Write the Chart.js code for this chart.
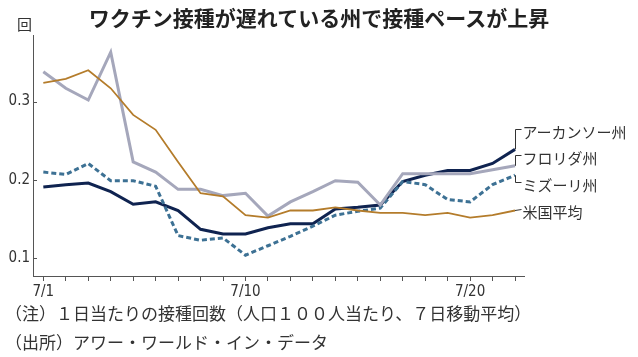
<!DOCTYPE html>
<html><head><meta charset="utf-8">
<script src="https://cdn.jsdelivr.net/npm/chart.js@4.4.0/dist/chart.umd.min.js"></script>
<style>
html,body{margin:0;padding:0;background:#fff;}
#wrap{position:relative;width:638px;height:357px;overflow:hidden;font-family:"Noto Sans CJK JP","Noto Sans",sans-serif;}
canvas{position:absolute;left:0;top:0;}
.t{position:absolute;white-space:nowrap;color:#222;}
</style></head>
<body>
<div id="wrap">
<canvas id="c" width="638" height="357"></canvas>
<div class="t" id="title" style="left:0;width:638px;text-align:center;top:4px;font-size:21px;font-weight:bold;line-height:26px;">ワクチン接種が遅れている州で接種ペースが上昇</div>
<div class="t" style="left:17px;top:15px;font-size:15px;line-height:17px;color:#333;">回</div>
<div class="t" style="left:5px;top:302px;font-size:17px;line-height:22px;color:#333;">（注）１日当たりの接種回数（人口１００人当たり、７日移動平均）</div>
<div class="t" style="left:5px;top:331px;font-size:17px;line-height:22px;color:#333;">（出所）アワー・ワールド・イン・データ</div>
</div>
<script>
const categories = ["7/1","7/2","7/3","7/4","7/5","7/6","7/7","7/8","7/9","7/10","7/11","7/12","7/13","7/14","7/15","7/16","7/17","7/18","7/19","7/20","7/21","7/22"];
const shownTickLabels = ["7/1","7/10","7/20"];
const yTicks = [0.1, 0.2, 0.3];
const arkansas = [0.191,0.194,0.196,0.185,0.169,0.172,0.161,0.137,0.131,0.131,0.139,0.144,0.144,0.163,0.165,0.168,0.198,0.206,0.212,0.212,0.221,0.239];
const florida  = [0.338,0.317,0.302,0.363,0.223,0.210,0.188,0.188,0.180,0.183,0.154,0.172,0.185,0.199,0.197,0.168,0.208,0.208,0.208,0.208,0.213,0.218];
const missouri = [0.210,0.207,0.221,0.199,0.199,0.192,0.129,0.123,0.126,0.104,0.116,0.128,0.141,0.155,0.160,0.164,0.198,0.194,0.175,0.172,0.194,0.206];
const usAvg    = [0.324,0.329,0.340,0.317,0.283,0.264,0.223,0.183,0.179,0.155,0.152,0.161,0.161,0.165,0.161,0.158,0.158,0.155,0.158,0.152,0.155,0.161];
const seriesNames = ["アーカンソー州","フロリダ州","ミズーリ州","米国平均"];

const cNavy = "#0f2350", cGrey = "#a5a7bb", cDash = "#3d7194", cOrange = "#b47c2b";
const tickFont = {family:"'DejaVu Sans Condensed','Liberation Sans Narrow','Roboto Condensed',Roboto,sans-serif", size:15, weight:'300'};

function pts(arr){ return arr.map((v,i)=>({x:i,y:v})); }

const labelPlugin = {
  id:'labels',
  afterDatasetsDraw(chart){
    const ctx = chart.ctx, xs = chart.scales.x, ys = chart.scales.y;
    ctx.save();
    ctx.strokeStyle = '#555'; ctx.lineWidth = 1;
    yTicks.forEach(v=>{
      const py = Math.round(ys.getPixelForValue(v))+0.5;
      ctx.beginPath(); ctx.moveTo(xs.left, py); ctx.lineTo(xs.left+4, py); ctx.stroke();
    });
    const last = categories.length-1;
    const ex = xs.getPixelForValue(last);
    const specs = [
      {name:seriesNames[0], data:arkansas, ty:132},
      {name:seriesNames[1], data:florida, ty:158},
      {name:seriesNames[2], data:missouri, ty:185},
      {name:seriesNames[3], data:usAvg, ty:212}
    ];
    ctx.font = "15px 'Noto Sans CJK JP', sans-serif";
    ctx.textBaseline = 'middle';
    ctx.fillStyle = '#333';
    ctx.strokeStyle = '#333';
    specs.forEach(s=>{
      const ey = ys.getPixelForValue(s.data[last]);
      const bx = Math.round(ex)+0.5;
      const hy = Math.round(s.ty - 3)+0.5;
      ctx.beginPath();
      if (Math.abs(ey-hy) > 2) {
        ctx.moveTo(bx, ey); ctx.lineTo(bx, hy); ctx.lineTo(bx+6, hy);
      } else {
        ctx.moveTo(ex, ey); ctx.lineTo(bx+6, hy);
      }
      ctx.stroke();
      ctx.fillText(s.name, bx+7, s.ty);
    });
    ctx.restore();
  }
};

new Chart(document.getElementById('c'), {
  type:'line',
  data:{ datasets:[
    {label:seriesNames[3], data:pts(usAvg), borderColor:cOrange, borderWidth:1.8, pointRadius:0, tension:0},
    {label:seriesNames[1], data:pts(florida), borderColor:cGrey, borderWidth:3, pointRadius:0, tension:0},
    {label:seriesNames[2], data:pts(missouri), borderColor:cDash, borderWidth:3, borderDash:[5,3], pointRadius:0, tension:0},
    {label:seriesNames[0], data:pts(arkansas), borderColor:cNavy, borderWidth:3, pointRadius:0, tension:0}
  ]},
  options:{
    responsive:false, animation:false,
    layout:{padding:{top:35, right:114, left:0, bottom:0}},
    plugins:{legend:{display:false}, tooltip:{enabled:false}, title:{display:false}},
    scales:{
      x:{
        type:'linear', min:-0.46, max:21.4,
        afterBuildTicks(s){ s.ticks = categories.map((c,i)=>({value:i})); },
        afterFit(s){ s.height = 81; },
        ticks:{ autoSkip:false, maxRotation:0, padding:2, color:'#333', font:tickFont,
          callback(v){ const c = categories[v]; return shownTickLabels.includes(c) ? c : ''; } },
        grid:{ drawOnChartArea:false, drawTicks:true, tickLength:5, color:'#555', lineWidth:1 },
        border:{ display:true, color:'#555', width:1 }
      },
      y:{
        min:0.0774, max:0.385,
        afterBuildTicks(s){ s.ticks = yTicks.map(v=>({value:v})); },
        afterFit(s){ s.width = 33; },
        ticks:{ padding:3, color:'#333', font:tickFont, callback(v){ return v.toFixed(1); } },
        grid:{ drawOnChartArea:false, drawTicks:false },
        border:{ display:true, color:'#555', width:1 }
      }
    }
  },
  plugins:[labelPlugin]
});
</script>
</body></html>
